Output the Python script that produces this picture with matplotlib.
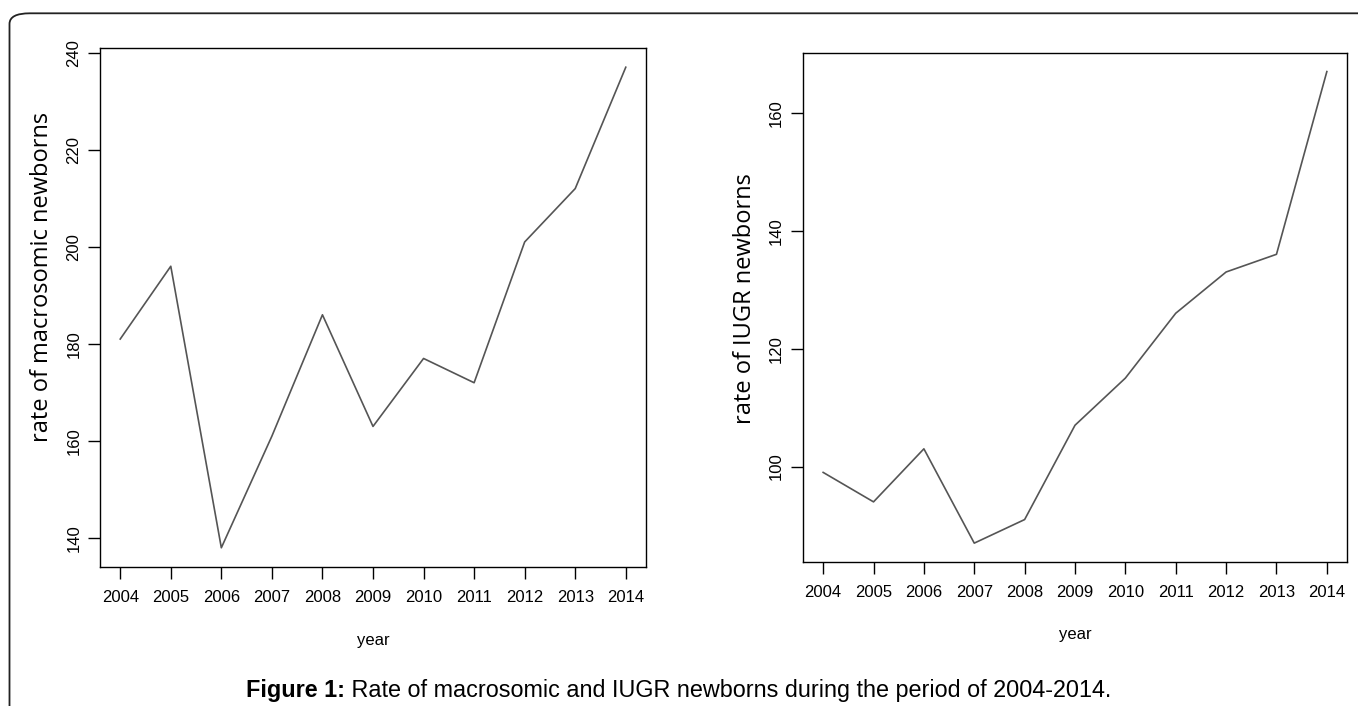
import matplotlib
matplotlib.use('Agg')
import matplotlib.pyplot as plt
from matplotlib.patches import FancyBboxPatch

# data
years = [2004, 2005, 2006, 2007, 2008, 2009, 2010, 2011, 2012, 2013, 2014]
macrosomic = [181, 196, 138, 161, 186, 163, 177, 172, 201, 212, 237]
iugr = [99, 94, 103, 87, 91, 107, 115, 126, 133, 136, 167]
macro_ticks = [140, 160, 180, 200, 220, 240]
iugr_ticks = [100, 120, 140, 160]

W, H = 1358, 706
fig = plt.figure(figsize=(W / 100, H / 100), dpi=100)
fig.patch.set_facecolor('white')


def px_axes(x0, y0, x1, y1):
    return fig.add_axes([x0 / W, 1 - y1 / H, (x1 - x0) / W, (y1 - y0) / H])


def r_style(ax, vals, yticks):
    ax.plot(years, vals, color='#555555', lw=1.2)
    ax.set_xlim(years[0] - 0.4, years[-1] + 0.4)
    pad = 0.04 * (max(vals) - min(vals))
    ax.set_ylim(min(vals) - pad, max(vals) + pad)
    ax.set_xticks(years)
    ax.set_yticks(yticks)
    for s in ax.spines.values():
        s.set_linewidth(1.0)
        s.set_color('black')
    ax.tick_params(direction='out', length=8.5, width=1.0, labelsize=12)
    ax.tick_params(axis='x', pad=8)
    ax.tick_params(axis='y', pad=5, labelrotation=90)
    for lbl in ax.get_xticklabels() + ax.get_yticklabels():
        lbl.set_family('Liberation Sans')
    for lbl in ax.get_yticklabels():
        lbl.set_va('center')


ax1 = px_axes(100, 48, 646, 567)
r_style(ax1, macrosomic, macro_ticks)
ax2 = px_axes(803, 52.7, 1347, 562)
r_style(ax2, iugr, iugr_ticks)

# axis titles
fig.text(42 / W, 1 - 277 / H, 'rate of macrosomic newborns', rotation=90,
         fontsize=17, family='Open Sans', ha='center', va='center')
fig.text(745 / W, 1 - 299 / H, 'rate of IUGR newborns', rotation=90,
         fontsize=17, family='Open Sans', ha='center', va='center')
fig.text(373 / W, 1 - 640 / H, 'year', fontsize=12, family='Liberation Sans',
         ha='center', va='center')
fig.text(1075 / W, 1 - 635 / H, 'year', fontsize=12, family='Liberation Sans',
         ha='center', va='center')

# caption: bold part + normal part
renderer = fig.canvas.get_renderer()
t1 = fig.text(0, 1 - 690 / H, 'Figure 1:', fontsize=16.8, weight='bold',
              family='Liberation Sans', va='center')
t2 = fig.text(0, 1 - 690 / H, ' Rate of macrosomic and IUGR newborns during the period of 2004-2014.',
              fontsize=16.8, family='Liberation Sans', va='center')
w1 = t1.get_window_extent(renderer).width
w2 = t2.get_window_extent(renderer).width
x0 = (W / 2 - (w1 + w2) / 2)
t1.set_x(x0 / W)
t2.set_x((x0 + w1) / W)

# frame of the figure panel (only top and left edges visible)
frame = FancyBboxPatch((9.5 / W, -0.2), 1.2, 1 - 13.3 / H + 0.2,
                       boxstyle='round,pad=0,rounding_size=0.015',
                       transform=fig.transFigure, fill=False,
                       edgecolor='#222222', lw=1.3)
fig.patches.append(frame)

fig.savefig('out.png', dpi=100)
